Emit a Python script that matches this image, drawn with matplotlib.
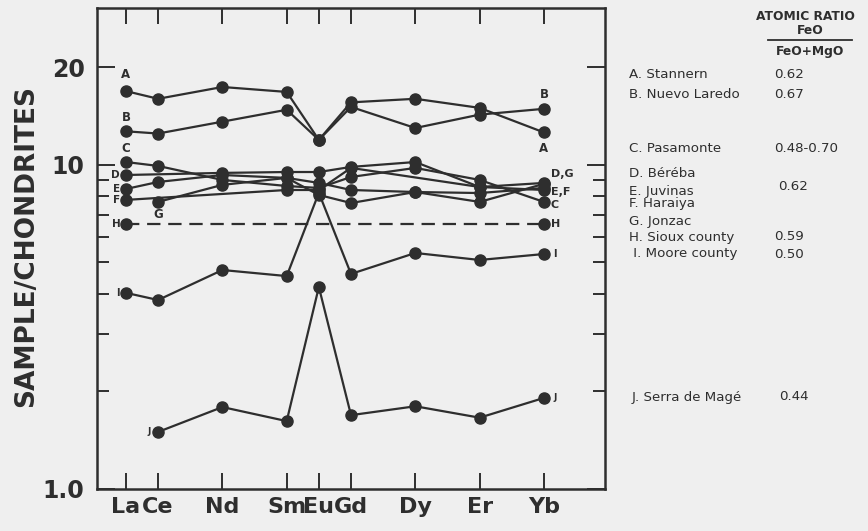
import numpy as np
import matplotlib
matplotlib.use("Agg")
import matplotlib.pyplot as plt
from matplotlib.ticker import FixedLocator, NullFormatter

# ---------------- data ----------------
elements = ["La", "Ce", "Nd", "Sm", "Eu", "Gd", "Dy", "Er", "Yb"]
atomic_number = [57, 58, 60, 62, 63, 64, 66, 68, 70]
nan = np.nan

A_stannern = [16.9, 16.0, 17.4, 16.8, 11.95, 15.6, 16.0, 15.0, 12.6]
B_nuevo_laredo = [12.7, 12.5, 13.6, 14.8, 11.95, 15.1, 13.0, 14.3, 14.9]
C_pasamonte = [10.21, 9.93, 8.99, 8.61, 8.49, 9.18, 9.79, 8.99, 7.69]
D_bereba = [9.31, nan, 9.45, 9.51, 9.51, 9.86, 10.21, 8.55, 8.80]
E_juvinas = [8.43, 8.86, 9.31, 9.12, 8.80, 8.37, 8.25, 8.19, 8.49]
F_haraiya = [7.80, nan, nan, 8.37, 8.37, 9.79, nan, 8.55, 8.37]
G_jonzac = [nan, 7.69, 8.68, 9.12, 8.08, 7.63, 8.25, 7.69, 8.74]
H_sioux = [6.58, nan, nan, nan, nan, nan, nan, nan, 6.58]
I_moore = [4.03, 3.83, 4.74, 4.54, 8.2, 4.61, 5.35, 5.09, 5.31]
J_serra = [nan, 1.50, 1.79, 1.62, 4.2, 1.69, 1.80, 1.66, 1.91]

legend_names = ["A. Stannern", "B. Nuevo Laredo", "C. Pasamonte", "D. Béréba",
                "E. Juvinas", "F. Haraiya", "G. Jonzac", "H. Sioux county",
                " I. Moore county", "J. Serra de Magé"]
ratios = ["0.62", "0.67", "0.48-0.70", "0.62", "0.59", "0.50", "0.44"]

y_ticks = [1, 10, 20]
y_ticklabels = ["1.0", "10", "20"]
y_minor = [2, 3, 4, 5, 6, 7, 8, 9]

# ---------------- style ----------------
INK = "#2e2e2e"
BG = "#efefef"
W, H = 868, 531

fig = plt.figure(figsize=(W / 100, H / 100), dpi=100, facecolor=BG)
def px(x, y):
    return (x / W, 1 - y / H)

l, b = px(97, 489)
r, t = px(605, 8)
ax = fig.add_axes([l, b, r - l, t - b])
ax.set_facecolor(BG)
ax.set_yscale("log")
ax.set_xlim(56.1, 71.9)
ax.set_ylim(1.0, 30.5)

x = np.array(atomic_number, dtype=float)

def draw(vals, ls="-"):
    v = np.array(vals, dtype=float)
    m = ~np.isnan(v)
    ax.plot(x[m], v[m], color=INK, lw=1.6, ls=ls, marker="o", ms=8,
            mfc=INK, mec=INK, solid_joinstyle="round")
    return x[m], v[m]

series = [A_stannern, B_nuevo_laredo, C_pasamonte, D_bereba, E_juvinas,
          F_haraiya, G_jonzac, I_moore, J_serra]
pts = {}
for name, s in zip("ABCDEFGIJ", series):
    pts[name] = draw(s)
pts["H"] = draw(H_sioux, ls=(0, (6, 3.5)))

# ticks
ax.yaxis.set_major_locator(FixedLocator(y_ticks))
ax.yaxis.set_minor_locator(FixedLocator(y_minor))
ax.set_yticklabels(y_ticklabels)
ax.yaxis.set_minor_formatter(NullFormatter())
ax.set_xticks(atomic_number)
ax.set_xticklabels(elements)
ax.tick_params(axis="y", which="major", direction="in", length=13, width=1.4,
               left=True, right=True, pad=9, labelsize=17, colors=INK)
ax.tick_params(axis="y", which="minor", direction="in", length=8.5, width=1.4,
               left=True, right=True, colors=INK)
ax.tick_params(axis="x", which="major", direction="in", length=11.5, width=1.4,
               top=True, bottom=True, pad=6, labelsize=16, colors=INK)
ax.tick_params(axis="x", which="minor", bottom=False, top=False)
for lab in ax.get_xticklabels() + ax.get_yticklabels():
    lab.set_fontweight("bold")
    lab.set_color(INK)
for sp in ax.spines.values():
    sp.set_linewidth(1.8)
    sp.set_color(INK)

fig.text(*px(26, 246), "SAMPLE/CHONDRITES", rotation=90, ha="center",
         va="center", fontsize=19, fontweight="bold", color=INK)

# in-plot letter labels
def lab(name, idx, dx, dy, ha="center", va="center", size=8.5, text=None):
    xs, vs = pts[name]
    ax.annotate(text or name, (xs[idx], vs[idx]), xytext=(dx, dy),
                textcoords="offset pixels", ha=ha, va=va, fontsize=size,
                color=INK, fontweight="semibold")

lab("A", 0, 0, 17)
lab("B", 0, 0, 14)
lab("C", 0, 0, 14)
lab("D", 0, -6, 0, ha="right", size=7.5)
lab("E", 0, -6, 0, ha="right", size=7.5)
lab("F", 0, -6, 0, ha="right", size=7.5)
lab("G", 0, 0, -13)
lab("H", 0, -5, 0, ha="right", size=7.5)
lab("I", 0, -6, 0, ha="right", size=7)
lab("J", 0, -7, 0, ha="right", size=6.5)
lab("B", -1, 0, 14)
lab("A", -1, 0, -16)
lab("D", -1, 7, 9, ha="left", text="D,G", size=8)
lab("E", -1, 7, -4, ha="left", text="E,F", size=8)
lab("C", -1, 7, -3, ha="left", size=8)
lab("H", -1, 7, 0, ha="left", size=8)
lab("I", -1, 9, 0, ha="left", size=7)
lab("J", -1, 10, 0, ha="left", size=6.5)

# right-hand key
fs = 9.6
fig.text(*px(756, 16), "ATOMIC RATIO", ha="left", va="center", fontsize=8.8,
         fontweight="semibold", color=INK)
fig.text(*px(810, 30), "FeO", ha="center", va="center", fontsize=8.8,
         color=INK, fontweight="semibold")
fig.add_artist(plt.Line2D([768 / W, 852 / W], [1 - 40 / H, 1 - 40 / H],
                          color=INK, lw=1.3))
fig.text(*px(810, 51), "FeO+MgO", ha="center", va="center", fontsize=8.8,
         color=INK, fontweight="semibold")

name_y = [75, 95, 148, 173, 191, 203, 221, 237, 254, 397]
for nm, yy in zip(legend_names, name_y):
    xx = 632 if nm.startswith("J") else 629
    fig.text(*px(xx, yy), nm, ha="left", va="center", fontsize=fs, color=INK)

ratio_pos = [(774, 75), (774, 95), (774, 148), (778, 187), (774, 237),
             (774, 254), (779, 397)]
for rt, (xx, yy) in zip(ratios, ratio_pos):
    fig.text(*px(xx, yy), rt, ha="left", va="center", fontsize=fs, color=INK)

fig.savefig("out.png", dpi=100, facecolor=BG)
